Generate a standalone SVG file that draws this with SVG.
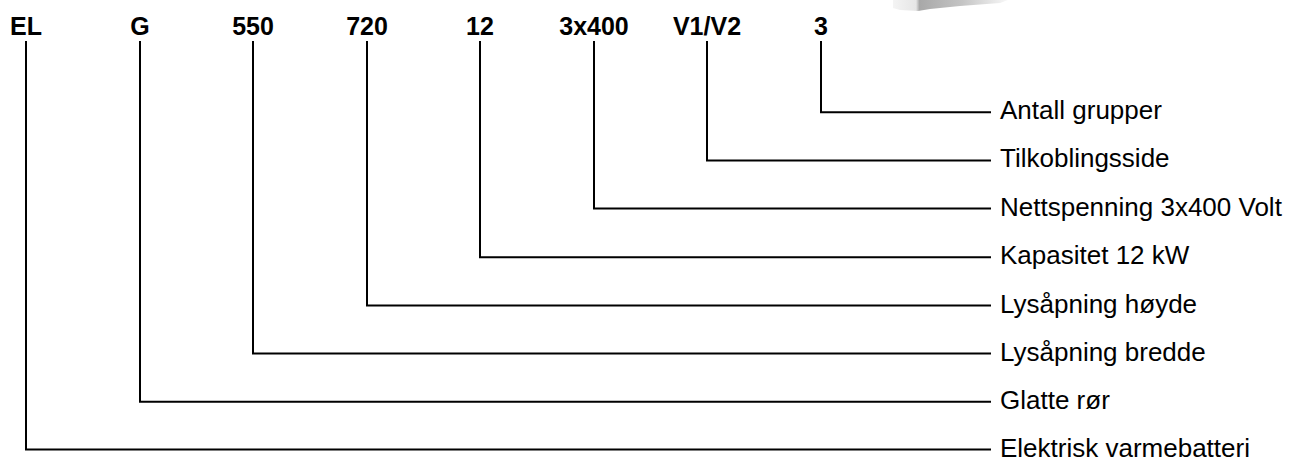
<svg xmlns="http://www.w3.org/2000/svg" width="1294" height="463" viewBox="0 0 1294 463">
<style>
.code{font-family:"Liberation Sans",Arial,sans-serif;font-weight:bold;font-size:25px;fill:#000;text-anchor:middle}
.lbl{font-family:"Liberation Sans",Arial,sans-serif;font-size:26px;fill:#000}
.conn{fill:none;stroke:#000;stroke-width:2}
</style>
<defs>
<linearGradient id="smudge" x1="893" y1="0" x2="1008" y2="0" gradientUnits="userSpaceOnUse">
<stop offset="0" stop-color="#f4f4f4"/>
<stop offset="0.2" stop-color="#e6e6e6"/>
<stop offset="0.23" stop-color="#a8a8a8"/>
<stop offset="0.6" stop-color="#c4c4c4"/>
<stop offset="1" stop-color="#f8f8f8"/>
</linearGradient>
</defs>
<rect width="1294" height="463" fill="#fff"/>
<polygon points="893,0 1008,0 1000,3 960,6 930,9 918,11 900,10 893,8" fill="url(#smudge)"/>
<g id="codes">
<g id="n-el"><text class="code" x="26" y="35">EL</text></g>
<g id="n-g"><text class="code" x="140" y="35">G</text></g>
<g id="n-550"><text class="code" x="253" y="35">550</text></g>
<g id="n-720"><text class="code" x="367" y="35">720</text></g>
<g id="n-12"><text class="code" x="480" y="35">12</text></g>
<g id="n-3x400"><text class="code" x="594" y="35">3x400</text></g>
<g id="n-v1v2"><text class="code" x="707" y="35">V1/V2</text></g>
<g id="n-3"><text class="code" x="821" y="35">3</text></g>
</g>
<g id="connectors">
<polyline class="conn" points="821,41 821,112.3 991,112.3"/>
<polyline class="conn" points="707,41 707,160.4 991,160.4"/>
<polyline class="conn" points="594,41 594,208.5 991,208.5"/>
<polyline class="conn" points="480,41 480,257.2 991,257.2"/>
<polyline class="conn" points="367,41 367,305.5 991,305.5"/>
<polyline class="conn" points="253,41 253,353.5 991,353.5"/>
<polyline class="conn" points="140,41 140,401.7 991,401.7"/>
<polyline class="conn" points="26,41 26,449.5 991,449.5"/>
</g>
<g id="labels">
<g id="l-antall"><text class="lbl" x="1000" y="119.3">Antall grupper</text></g>
<g id="l-tilk"><text class="lbl" x="1000" y="167.4">Tilkoblingsside</text></g>
<g id="l-nett"><text class="lbl" x="1000" y="215.5">Nettspenning 3x400 Volt</text></g>
<g id="l-kap"><text class="lbl" x="1000" y="264.2">Kapasitet 12 kW</text></g>
<g id="l-hoyde"><text class="lbl" x="1000" y="312.5">Lysåpning høyde</text></g>
<g id="l-bredde"><text class="lbl" x="1000" y="360.5">Lysåpning bredde</text></g>
<g id="l-glatte"><text class="lbl" x="1000" y="408.7">Glatte rør</text></g>
<g id="l-elek"><text class="lbl" x="1000" y="456.5">Elektrisk varmebatteri</text></g>
</g>
</svg>
